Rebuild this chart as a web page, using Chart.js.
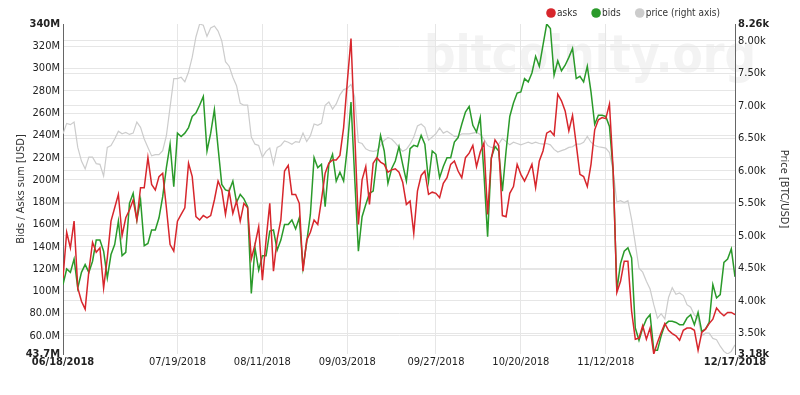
<!DOCTYPE html>
<html>
<head>
<title>Bids / Asks sum</title>
<script src="https://cdn.jsdelivr.net/npm/chart.js@4.4.0/dist/chart.umd.min.js"></script>
<style>
  body { margin: 0; background: #fff; }
</style>
</head>
<body>
<canvas id="bidsAsksChart" width="800" height="395"></canvas>
<script>
// daily values from 06/18/2018 (day 0) to 12/17/2018 (day 182), millions of USD
const asks = [
  112,153,139,163,103,91,84,118,144,135,
  139,103,130,163,175,187,150,166,173,182,
  164,193,193,220,196,191,203,206,175,142,
  136,163,169,175,215,203,167,164,168,166,
  168,182,199,191,169,190,170,181,163,179,
  175,129,142,158,110,146,179,118,147,164,
  208,213,187,187,179,118,146,153,164,160,
  182,206,215,218,218,222,247,288,327,242,
  160,200,212,178,215,220,216,214,207,209,
  210,207,198,178,181,152,190,204,208,187,
  189,188,184,197,202,214,217,208,202,220,
  224,231,212,225,233,169,219,236,231,168,
  167,188,194,214,205,199,206,214,193,217,
  226,242,244,240,277,271,262,244,258,232,
  205,203,194,214,245,254,256,255,268,209,
  99,109,127,127,82,57,58,69,57,67,
  43.7,54,63,71,65,62,60,56,65,67,
  67,65,47,63,66,71,75,85,81,78,
  81,81,79
];
const bids = [
  106,120,117,129,103,117,124,117,127,146,
  146,136,112,133,142,163,132,135,179,188,
  164,182,141,143,155,155,166,185,211,232,
  194,242,239,242,247,257,260,267,275,226,
  242,263,229,196,191,190,199,180,187,183,
  176,98,139,119,132,132,154,155,137,146,
  160,160,164,156,166,121,144,169,220,211,
  214,176,214,223,199,207,199,229,270,202,
  136,167,178,188,190,218,240,226,197,210,
  217,230,214,199,228,231,230,240,232,199,
  226,223,202,212,220,220,234,238,250,261,
  266,249,243,256,206,149,220,230,226,190,
  226,257,269,278,279,291,288,296,311,302,
  321,340,336,294,307,298,303,310,318,291,
  293,288,302,279,250,258,258,257,248,208,
  101,125,136,139,130,67,56,67,75,79,
  47,47,60,70,73,73,72,70,70,76,
  79,70,81,64,66,72,106,94,97,126,
  129,138,113
];
// BTC price in thousands of USD
const price = [
  6.57,6.73,6.71,6.75,6.36,6.15,6.03,6.21,6.21,6.11,
  6.10,5.92,6.36,6.39,6.49,6.61,6.57,6.59,6.56,6.58,
  6.75,6.67,6.49,6.36,6.23,6.25,6.25,6.31,6.54,6.98,
  7.42,7.42,7.44,7.37,7.52,7.75,8.06,8.26,8.24,8.07,
  8.20,8.23,8.15,8.00,7.68,7.61,7.44,7.31,7.04,7.01,
  7.01,6.52,6.41,6.39,6.21,6.30,6.35,6.10,6.36,6.39,
  6.46,6.44,6.41,6.45,6.44,6.58,6.45,6.54,6.72,6.70,
  6.73,7.01,7.06,6.95,7.03,7.17,7.25,7.27,7.33,7.14,
  6.44,6.42,6.34,6.31,6.30,6.31,6.39,6.47,6.51,6.49,
  6.43,6.36,6.30,6.33,6.41,6.52,6.69,6.72,6.67,6.47,
  6.52,6.57,6.66,6.58,6.61,6.57,6.53,6.53,6.57,6.57,
  6.57,6.58,6.59,6.56,6.49,6.39,6.36,6.36,6.41,6.50,
  6.45,6.40,6.44,6.42,6.40,6.42,6.44,6.42,6.44,6.42,
  6.41,6.42,6.40,6.33,6.29,6.31,6.33,6.36,6.37,6.41,
  6.41,6.44,6.53,6.44,6.39,6.37,6.36,6.35,6.28,6.00,
  5.52,5.54,5.51,5.54,5.25,4.88,4.50,4.44,4.30,4.18,
  3.94,3.73,3.80,3.72,4.05,4.20,4.10,4.12,4.08,3.94,
  3.90,3.78,3.73,3.46,3.50,3.50,3.42,3.40,3.30,3.22,
  3.18,3.22,3.32
];

// x ticks (day offset) and their labels
const dateTicks = [0, 31, 54, 77, 101, 124, 147, 182];
const dateLabels = ['06/18/2018','07/19/2018','08/11/2018','09/03/2018','09/27/2018','10/20/2018','11/12/2018','12/17/2018'];
// left axis ticks (M USD), right axis ticks (k USD)
const sumTicks = [43.7, 60, 80, 100, 120, 140, 160, 180, 200, 220, 240, 260, 280, 300, 320, 340];
const priceTicks = [3.18, 3.5, 4.0, 4.5, 5.0, 5.5, 6.0, 6.5, 7.0, 7.5, 8.0, 8.26];

const FONT = '"DejaVu Sans Condensed", "DejaVu Sans", sans-serif';
Chart.defaults.font.family = FONT;
Chart.defaults.color = '#333';

const toPoints = arr => arr.map((v, i) => ({ x: i, y: v }));
const isEnd = (ctx, n) => ctx.index === 0 || ctx.index === n - 1;
const gridCol = n => ctx => isEnd(ctx, n) ? 'rgba(0,0,0,0)' : '#e6e6e6';
const tickFont = (n, size) => ctx => ({ family: FONT, size: size, weight: isEnd(ctx, n) ? 'bold' : 'normal' });

// big pale watermark behind everything
const watermark = {
  id: 'watermark',
  beforeDraw(chart) {
    const c = chart.ctx;
    c.save();
    c.font = 'bold 52px "DejaVu Sans", sans-serif';
    c.fillStyle = '#f3f3f3';
    c.textBaseline = 'alphabetic';
    c.fillText('bitcoinity.org', 424, 72, 332);
    c.restore();
  }
};

// legend with round markers, top right
const dotLegend = {
  id: 'dotLegend',
  afterDraw(chart) {
    const c = chart.ctx;
    c.save();
    c.font = '10px ' + FONT;
    c.textBaseline = 'middle';
    let cx = 551;
    const cy = 13;
    chart.data.datasets.forEach(ds => {
      c.fillStyle = ds.legendColor;
      c.beginPath();
      c.arc(cx, cy, 4.8, 0, Math.PI * 2);
      c.fill();
      c.fillStyle = '#333';
      c.fillText(ds.label, cx + 6, cy);
      cx = cx + 6 + c.measureText(ds.label).width + 19;
    });
    c.restore();
  }
};

new Chart(document.getElementById('bidsAsksChart'), {
  type: 'line',
  data: {
    datasets: [
      { label: 'asks', data: toPoints(asks), borderColor: '#d7262c', legendColor: '#d7262c', borderWidth: 1.5, yAxisID: 'y' },
      { label: 'bids', data: toPoints(bids), borderColor: '#2a9a2a', legendColor: '#2a9a2a', borderWidth: 1.5, yAxisID: 'y' },
      { label: 'price (right axis)', data: toPoints(price), borderColor: '#cccccc', legendColor: '#cccccc', borderWidth: 1.2, yAxisID: 'y1' }
    ]
  },
  options: {
    responsive: false,
    animation: false,
    devicePixelRatio: 1,
    layout: { padding: { top: 24, bottom: 21, left: 0, right: 0 } },
    elements: { point: { radius: 0 }, line: { tension: 0 } },
    plugins: { legend: { display: false }, tooltip: { enabled: false } },
    scales: {
      x: {
        type: 'linear',
        min: 0,
        max: dateTicks[dateTicks.length - 1],
        afterBuildTicks: s => { s.ticks = dateTicks.map(v => ({ value: v })); },
        afterFit: s => { s.height = 20; },
        ticks: {
          autoSkip: false,
          maxRotation: 0,
          padding: 2,
          color: '#222',
          font: tickFont(dateTicks.length, 11),
          callback: (v, i) => dateLabels[i]
        },
        grid: { color: gridCol(dateTicks.length), drawTicks: false },
        border: { display: false }
      },
      y: {
        position: 'left',
        min: sumTicks[0],
        max: sumTicks[sumTicks.length - 1],
        afterBuildTicks: s => { s.ticks = sumTicks.map(v => ({ value: v })); },
        afterFit: s => { s.width = 63; },
        ticks: {
          padding: 3,
          color: '#222',
          font: tickFont(sumTicks.length, 11),
          callback: v => (v >= 100 ? v.toFixed(0) : v.toFixed(1)) + 'M'
        },
        grid: { color: gridCol(sumTicks.length), drawTicks: false },
        border: { display: true, color: '#666' },
        title: { display: true, text: 'Bids / Asks sum [USD]', color: '#333', font: { size: 11 }, padding: { top: 15, bottom: 0 } }
      },
      y1: {
        position: 'right',
        min: priceTicks[0],
        max: priceTicks[priceTicks.length - 1],
        afterBuildTicks: s => { s.ticks = priceTicks.map(v => ({ value: v })); },
        afterFit: s => { s.width = 65; },
        ticks: {
          padding: 3,
          color: '#222',
          font: tickFont(priceTicks.length, 11),
          callback: v => v.toFixed(2) + 'k'
        },
        grid: { color: gridCol(priceTicks.length), drawTicks: false },
        border: { display: true, color: '#666' },
        title: { display: true, text: 'Price [BTC/USD]', color: '#333', font: { size: 11 }, padding: { top: 10, bottom: 0 } }
      }
    }
  },
  plugins: [watermark, dotLegend]
});
</script>
</body>
</html>
